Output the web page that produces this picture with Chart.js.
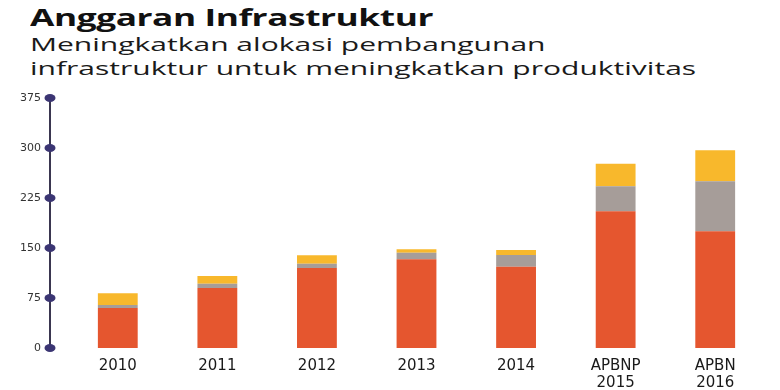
<!DOCTYPE html>
<html>
<head>
<meta charset="utf-8">
<script src="https://cdn.jsdelivr.net/npm/chart.js@4"></script>
<style>
  body { margin: 0; background: #fff; }
  #wrap { position: relative; width: 780px; height: 390px; overflow: hidden; }
  #chart { position: absolute; left: 0; top: 0; }
  .title { position: absolute; left: 30px; top: 0px; font: bold 24px "Open Sans", sans-serif; color: #111;
           transform: scaleX(1.47); transform-origin: left top; white-space: nowrap; letter-spacing: -0.3px; }
  .sub { position: absolute; left: 30px; top: 32px; font: 19px/24px "Open Sans", sans-serif; color: #1a1a1a;
         transform: scaleX(1.58); transform-origin: left top; white-space: nowrap; }
</style>
</head>
<body>
<div id="wrap">
  <div class="title">Anggaran Infrastruktur</div>
  <div class="sub">Meningkatkan alokasi pembangunan<br>infrastruktur untuk meningkatkan produktivitas</div>
  <canvas id="chart" width="780" height="390"></canvas>
</div>
<script>
// Chart data (triliun rupiah)
const categories = ["2010", "2011", "2012", "2013", "2014", ["APBNP", "2015"], ["APBN", "2016"]];
const orangeValues = [60, 90, 120, 133, 122, 205, 175];
const grayValues = [4.5, 6.5, 6.5, 10, 17.5, 37.5, 75];
const yellowValues = [17.5, 11.5, 12.5, 5, 7.5, 34, 46.5];
const yTicks = [0, 75, 150, 225, 300, 375];

// Draw the vertical axis line with round dots at each tick
const dotAxis = {
  id: "dotAxis",
  afterDraw(chart) {
    const y = chart.scales.y;
    const ctx = chart.ctx;
    const x = 50;
    ctx.save();
    ctx.strokeStyle = "#3a3650";
    ctx.lineWidth = 2;
    ctx.beginPath();
    ctx.moveTo(x, y.getPixelForValue(0));
    ctx.lineTo(x, y.getPixelForValue(375));
    ctx.stroke();
    ctx.fillStyle = "#3b3573";
    yTicks.forEach(function (t) {
      ctx.beginPath();
      ctx.ellipse(x, y.getPixelForValue(t), 5.5, 4, 0, 0, Math.PI * 2);
      ctx.fill();
    });
    ctx.restore();
  }
};

const ctx = document.getElementById("chart").getContext("2d");
new Chart(ctx, {
  type: "bar",
  data: {
    labels: categories,
    datasets: [
      { label: "Kementerian/Lembaga", data: orangeValues, backgroundColor: "#e5562f" },
      { label: "Transfer ke Daerah", data: grayValues, backgroundColor: "#a69d99" },
      { label: "Pembiayaan", data: yellowValues, backgroundColor: "#f8b82c" }
    ]
  },
  options: {
    responsive: false,
    animation: false,
    layout: { padding: { top: 98, right: 15, left: 0, bottom: 0 } },
    plugins: { legend: { display: false }, tooltip: { enabled: false } },
    datasets: { bar: { barPercentage: 0.4, categoryPercentage: 1 } },
    scales: {
      x: {
        stacked: true,
        grid: { display: false },
        border: { display: false },
        afterFit: function (scale) { scale.height = 42; },
        ticks: {
          padding: 1,
          maxRotation: 0,
          autoSkip: false,
          color: "#1a1a1a",
          font: { family: "DejaVu Sans", size: 15, lineHeight: 1.15 }
        }
      },
      y: {
        stacked: true,
        min: 0,
        max: 375,
        grid: { display: false, drawTicks: false },
        border: { display: false },
        afterFit: function (scale) { scale.width = 68; },
        afterBuildTicks: function (scale) { scale.ticks = yTicks.map(function (v) { return { value: v }; }); },
        ticks: {
          padding: 27,
          color: "#333",
          font: { family: "DejaVu Sans", size: 11 }
        }
      }
    }
  },
  plugins: [dotAxis]
});
</script>
</body>
</html>
